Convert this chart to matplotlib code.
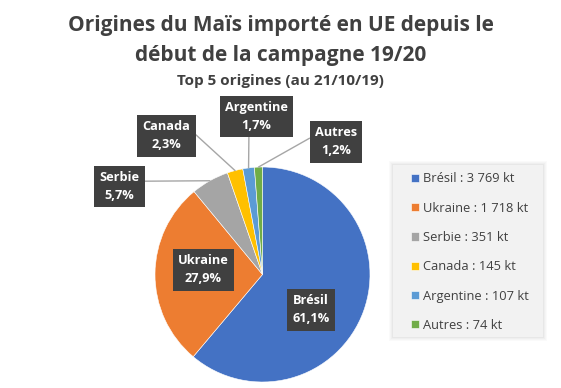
import matplotlib
matplotlib.use("Agg")
import matplotlib.pyplot as plt
from matplotlib.patches import Rectangle
import numpy as np

# Data
origins = ["Brésil", "Ukraine", "Serbie", "Canada", "Argentine", "Autres"]
volumes_kt = [3769, 1718, 351, 145, 107, 74]
shares_pct = [61.1, 27.9, 5.7, 2.3, 1.7, 1.2]
colors = ["#4472C4", "#ED7D31", "#A5A5A5", "#FFC000", "#5B9BD5", "#70AD47"]

title_l1 = "Origines du Maïs importé en UE depuis le"
title_l2 = "début de la campagne 19/20"
subtitle = "Top 5 origines (au 21/10/19)"

W, H = 561, 388
fig = plt.figure(figsize=(W / 100, H / 100), dpi=100)
fig.patch.set_facecolor("white")
ax = fig.add_axes([0, 0, 1, 1])

FONT = "Open Sans"
cx, cy, R = 262.5, 388 - 274.5, 107.5

wedges, _ = ax.pie(volumes_kt, colors=colors, startangle=90, counterclock=False,
                   center=(cx, cy), radius=R,
                   wedgeprops=dict(edgecolor="white", linewidth=0.4))
ax.set_xlim(0, W)
ax.set_ylim(0, H)
ax.set_aspect("equal")
ax.axis("off")

# label box centers (pixel from top-left) and attachment
label_pos = {
    "Brésil": ((311, 310), None),
    "Ukraine": ((203.5, 270), None),
    "Serbie": ((119.5, 186.5), (1.0, 0.67)),
    "Canada": ((166.5, 136), (1.0, 0.7)),
    "Argentine": ((256.5, 116.5), (0.38, 0.0)),
    "Autres": ((336, 142), (0.0, 0.72)),
}

for w, name, p in zip(wedges, origins, shares_pct):
    (px, py), rel = label_pos[name]
    txt = f"{name}\n{p:.1f}%".replace(".", ",")
    theta = np.deg2rad((w.theta1 + w.theta2) / 2)
    ex, ey = cx + R * np.cos(theta), cy + R * np.sin(theta)
    bbox = dict(boxstyle="square,pad=0.42", fc="#404040", ec="none")
    kw = dict(ha="center", va="center", color="white", fontsize=9.2,
              fontweight="bold", family=FONT, linespacing=1.5, bbox=bbox)
    if rel is None:
        ax.text(px, H - py, txt, **kw)
    else:
        ax.annotate(txt, xy=(ex, ey), xytext=(px, H - py),
                    arrowprops=dict(arrowstyle="-", color="#a6a6a6", lw=1,
                                    relpos=rel, shrinkA=0, shrinkB=0), **kw)

# Titles
tkw = dict(ha="center", va="center", fontweight="bold", color="#404040", family=FONT)
fig.text(0.5, 1 - 26 / H, title_l1, fontsize=15, **tkw)
fig.text(0.5, 1 - 56 / H, title_l2, fontsize=15, **tkw)
fig.text(0.5, 1 - 81 / H, subtitle, fontsize=11, **tkw)

# Legend background panel with soft shadow
for d, a in [(4, 0.02), (3, 0.02), (2, 0.025), (1, 0.03)]:
    ax.add_patch(Rectangle((393 - d, H - 337 - d), 150 + 2 * d, 172 + 2 * d,
                           facecolor="black", alpha=a, edgecolor="none", zorder=0.5))
ax.add_patch(Rectangle((393, H - 337), 150, 172, facecolor="#f2f2f2",
                       edgecolor="none", zorder=0.6))

labels = [f"{n} : {v:,} kt".replace(",", " ") for n, v in zip(origins, volumes_kt)]
leg = ax.legend(wedges, labels, loc="upper left", bbox_to_anchor=(411, H - 172.5),
                bbox_transform=ax.transData, frameon=False,
                prop=dict(family=FONT, size=9.3), labelspacing=1.26,
                handlelength=0.6, handleheight=0.6, handletextpad=0.3,
                borderpad=0, borderaxespad=0)
for t in leg.get_texts():
    t.set_color("#404040")

fig.savefig("out.png", dpi=100, facecolor="white")
